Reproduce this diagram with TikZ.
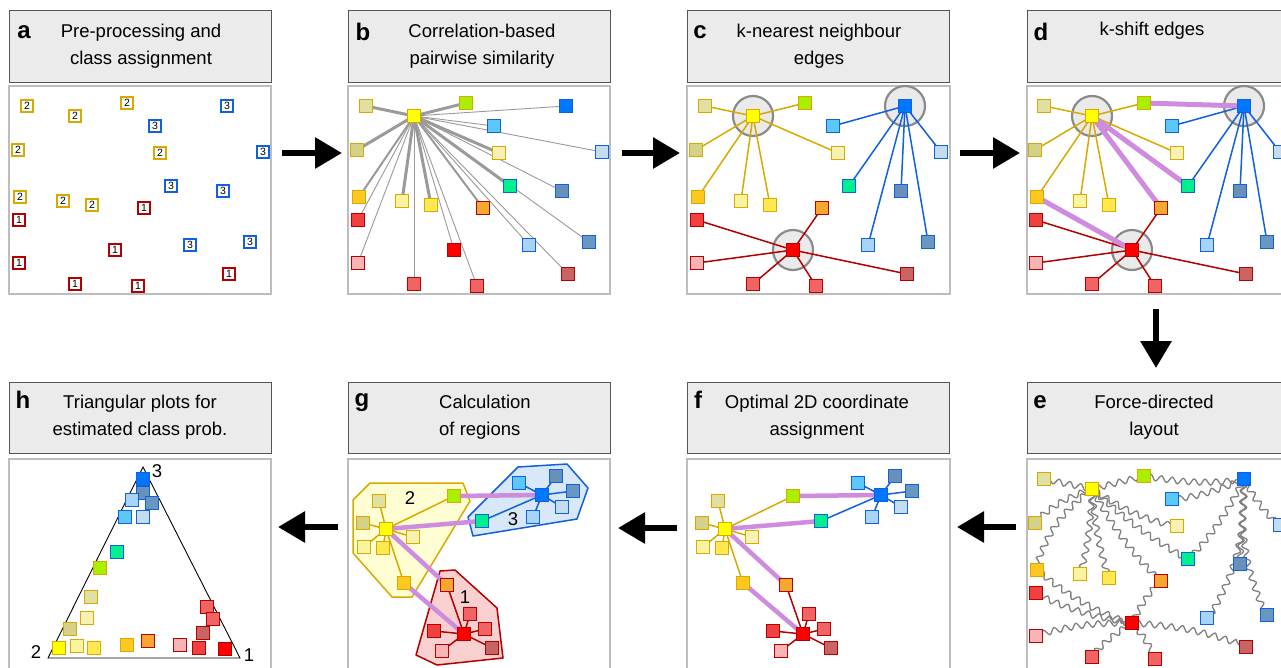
\documentclass[tikz,border=0pt]{standalone}
\usepackage{fontspec}
\setmainfont{Liberation Sans}
\usetikzlibrary{arrows.meta,decorations.pathmorphing}

\pgfdeclarelayer{back}
\pgfdeclarelayer{bg}
\pgfsetlayers{back,bg,main}

% node fills
\definecolor{n1}{HTML}{DFE0A2}
\definecolor{n2}{HTML}{FFFF00}
\definecolor{n3}{HTML}{AAEE00}
\definecolor{n4}{HTML}{D5D188}
\definecolor{n5}{HTML}{F6F2B4}
\definecolor{n6}{HTML}{FFC820}
\definecolor{n7}{HTML}{F8F4A0}
\definecolor{n8}{HTML}{FFE850}
\definecolor{n9}{HTML}{0077FF}
\definecolor{n10}{HTML}{5CC8F8}
\definecolor{n11}{HTML}{C4DCF0}
\definecolor{n12}{HTML}{00F090}
\definecolor{n13}{HTML}{6890B8}
\definecolor{n14}{HTML}{A8D4F8}
\definecolor{n15}{HTML}{6898C0}
\definecolor{n16}{HTML}{F04040}
\definecolor{n17}{HTML}{F4A830}
\definecolor{n18}{HTML}{FF0000}
\definecolor{n19}{HTML}{F8B4B4}
\definecolor{n20}{HTML}{F06464}
\definecolor{n21}{HTML}{F06464}
\definecolor{n22}{HTML}{C86464}
% class colours
\definecolor{cls1}{HTML}{B40000}
\definecolor{cls2}{HTML}{D8AA00}
\definecolor{cls3}{HTML}{1060E0}
\definecolor{hdrfill}{HTML}{EBEBEB}
\definecolor{hdrline}{HTML}{555555}
\definecolor{boxline}{HTML}{BDBDBD}
\definecolor{ringfill}{HTML}{EAEAEA}
\definecolor{ringline}{HTML}{8A8A8A}
\definecolor{simgray}{HTML}{9A9A9A}
\definecolor{springgray}{HTML}{808080}
\definecolor{shiftpurple}{HTML}{CF8CDF}
\definecolor{regyellow}{HTML}{FFFDD2}
\definecolor{regblue}{HTML}{D8E8F8}
\definecolor{regred}{HTML}{F8D0D0}

\tikzset{
  hdr/.style={draw=hdrline, fill=hdrfill, line width=1pt},
  panelbox/.style={draw=boxline, fill=white, line width=1.2pt},
  title/.style={font=\fontsize{18.5}{27}\selectfont, align=center, inner sep=0pt},
  letter/.style={font=\fontsize{24}{24}\selectfont\bfseries, inner sep=0pt},
  sq/.style={rectangle, minimum size=13pt, inner sep=0pt, line width=1.7pt},
  numsq/.style={sq, fill=white, minimum size=12.5pt, font=\fontsize{10.5}{10.5}\selectfont},
  ring/.style={circle, minimum size=40pt, inner sep=0pt, fill=ringfill, draw=ringline, line width=2.2pt},
  gedge/.style={draw=cls2, line width=1.5pt},
  bedge/.style={draw=cls3, line width=1.5pt},
  redge/.style={draw=cls1, line width=1.5pt},
  shiftedge/.style={draw=shiftpurple, line width=5pt},
  simthick/.style={draw=simgray, line width=3pt},
  simmid/.style={draw=simgray, line width=2pt},
  simthin/.style={draw=simgray, line width=0.9pt},
  spring/.style={draw=springgray, line width=1.3pt, decorate,
    decoration={snake, amplitude=3pt, segment length=11pt, pre length=3pt, post length=3pt}},
  bigarrow/.style={line width=6pt, -{Triangle[length=27pt, width=30pt]}},
  regnum/.style={font=\fontsize{18.5}{20}\selectfont, inner sep=0pt},
}

% node number / x / y / class for the shared layout of panels a-e
\def\baselayout{1/27/106/2, 2/75/116/2, 3/127/103/2, 4/18/150/2, 5/160/153/2,
  6/20/197/2, 7/63/201/2, 8/92/205/2, 9/227/106/3, 10/155/126/3, 11/263/152/3,
  12/171/186/3, 13/223/191/3, 14/190/245/3, 15/250/242/3, 16/19/220/1,
  17/144/208/1, 18/115/250/1, 19/19/263/1, 20/75/284/1, 21/138/286/1, 22/229/274/1}
% compact layout of panel f (panel g is the same, shifted left)
\def\flayout{1/718/501/2, 2/725/529/2, 3/793/496/2, 4/702/523/2, 5/752/537/2,
  6/743/583/2, 7/703/547/2, 8/722/548/2, 9/881/495/3, 10/858/483/3, 11/901/507/3,
  12/821/521/3, 13/895/476/3, 14/872/517/3, 15/912/491/3, 16/773/631/1,
  17/786/585/1, 18/803/634/1, 19/781/651/1, 20/824/629/1, 21/809/614/1, 22/831/648/1}
% triangular plot positions
\def\hlayout{9/143/479/3, 13/143/493/3, 14/132/500/3, 15/152/503/3, 10/125/517/3,
  11/143/517/3, 12/117/552/3, 3/100/568/2, 1/91/597/2, 5/87/618/2, 4/70/629/2,
  2/59/648/2, 7/77/646/2, 8/94/648/2, 6/127/645/2, 17/148/641/1, 19/180/645/1,
  16/199/648/1, 18/225/649/1, 20/207/607/1, 21/213/619/1, 22/203/633/1}
% hub-to-member edges
\def\knnedges{2/1/gedge, 2/3/gedge, 2/4/gedge, 2/5/gedge, 2/6/gedge, 2/7/gedge,
  2/8/gedge, 9/10/bedge, 9/11/bedge, 9/12/bedge, 9/13/bedge, 9/14/bedge,
  9/15/bedge, 18/16/redge, 18/17/redge, 18/19/redge, 18/20/redge, 18/21/redge,
  18/22/redge}
\def\shiftedges{3/9, 2/12, 2/17, 6/18}

\begin{document}
\begin{tikzpicture}[x=1pt, y=-1pt]
\useasboundingbox (0,0) rectangle (1281,667);

% ---------- panel frames ----------
\begin{pgfonlayer}{back}
  \foreach \px/\qx in {9/271, 348/610, 687/950, 1027/1300} {
    \draw[panelbox] (\px,86) rectangle (\qx,294);
    \draw[panelbox] (\px,459) rectangle (\qx,690);
  }
\end{pgfonlayer}
\foreach \px/\qx in {9/271, 348/610, 687/949, 1027/1300} {
  \draw[hdr] (\px,10) rectangle (\qx,82);
  \draw[hdr] (\px,382) rectangle (\qx,453);
}

% ---------- headers ----------
\node[letter] (la) at (24,32) {a};
\node[title] (ta) at (141,46) {Pre-processing and\\class assignment};
\node[letter] (lb) at (363,32) {b};
\node[title] (tb) at (482,46) {Correlation-based\\pairwise similarity};
\node[letter] (lc) at (700,32) {c};
\node[title] (tc) at (819,46) {k-nearest neighbour\\edges};
\node[letter] (ld) at (1041,32) {d};
\node[title] (td) at (1152,31) {k-shift edges};
\node[letter] (le) at (1040,402) {e};
\node[title] (te) at (1154,417) {Force-directed\\layout};
\node[letter] (lf) at (698,400) {f};
\node[title] (tf) at (817,417) {Optimal 2D coordinate\\assignment};
\node[letter] (lg) at (362,403) {g};
\node[title, align=left, anchor=west] (tg) at (439,417) {Calculation\\of regions};
\node[letter] (lh) at (23,400) {h};
\node[title] (th) at (140,417) {Triangular plots for\\estimated class prob.};

% ---------- a: class assignment ----------
\foreach \i/\x/\y/\c in \baselayout
  \node[numsq, draw=cls\c] (a\i) at (\x,\y) {\c};

% ---------- b: pairwise similarity ----------
\foreach \i/\x/\y/\c in \baselayout
  \node[sq, draw=cls\c, fill=n\i] (b\i) at (\x+339,\y) {};
\begin{pgfonlayer}{bg}
  \foreach \t/\st in {1/simthick, 3/simthick, 4/simthick, 5/simthick, 7/simthick,
      8/simthick, 12/simthick, 6/simmid, 17/simmid, 9/simthin, 10/simthin,
      11/simthin, 13/simthin, 14/simthin, 15/simthin, 16/simthin, 18/simthin,
      19/simthin, 20/simthin, 21/simthin, 22/simthin}
    \draw[\st] (b2.center) -- (b\t.center);
\end{pgfonlayer}

% ---------- c: k-nearest neighbour edges ----------
\foreach \i/\x/\y/\c in \baselayout
  \node[sq, draw=cls\c, fill=n\i] (c\i) at (\x+678,\y) {};
\begin{pgfonlayer}{bg}
  \foreach \h in {2,9,18}
    \node[ring] (cr\h) at (c\h) {};
  \foreach \s/\t/\st in \knnedges
    \draw[\st] (c\s.center) -- (c\t.center);
\end{pgfonlayer}

% ---------- d: k-shift edges ----------
\foreach \i/\x/\y/\c in \baselayout
  \node[sq, draw=cls\c, fill=n\i] (d\i) at (\x+1017,\y) {};
\begin{pgfonlayer}{bg}
  \foreach \h in {2,9,18}
    \node[ring] (dr\h) at (d\h) {};
  \foreach \s/\t/\st in \knnedges
    \draw[\st] (d\s.center) -- (d\t.center);
  \foreach \s/\t in \shiftedges
    \draw[shiftedge] (d\s.center) -- (d\t.center);
\end{pgfonlayer}

% ---------- e: force-directed layout ----------
\foreach \i/\x/\y/\c in \baselayout
  \node[sq, draw=cls\c, fill=n\i] (e\i) at (\x+1017,\y+373) {};
\begin{pgfonlayer}{bg}
  \foreach \s/\t/\b in {2/1/0, 2/3/0, 2/4/-12, 2/5/-10, 2/6/-18, 2/7/6, 2/8/-6,
      2/12/-6, 2/17/-8, 3/9/-8, 9/10/8, 9/11/-10, 9/12/8, 9/13/0, 9/14/16,
      9/15/-14, 6/18/-10, 18/16/8, 18/17/8, 18/19/-8, 18/20/-8, 18/21/8, 18/22/8}
    \draw[spring] (e\s.center) to[bend left=\b] (e\t.center);
\end{pgfonlayer}

% ---------- f: optimal 2D coordinates ----------
\foreach \i/\x/\y/\c in \flayout
  \node[sq, draw=cls\c, fill=n\i] (f\i) at (\x,\y) {};
\begin{pgfonlayer}{bg}
  \foreach \s/\t/\st in \knnedges
    \draw[\st] (f\s.center) -- (f\t.center);
  \foreach \s/\t in \shiftedges
    \draw[shiftedge, line width=4.5pt] (f\s.center) -- (f\t.center);
\end{pgfonlayer}

% ---------- g: regions ----------
\foreach \i/\x/\y/\c in \flayout
  \node[sq, draw=cls\c, fill=n\i] (g\i) at (\x-339,\y) {};
\begin{pgfonlayer}{bg}
  \draw[draw=cls2, fill=regyellow, line width=1.5pt, line join=round]
    (370,483) -- (463,483) -- (470,501) -- (412,597) -- (392,597)
    -- (353,553) -- (353,500) -- cycle;
  \draw[draw=cls3, fill=regblue, line width=1.5pt, line join=round]
    (518,467) -- (567,464) -- (588,488) -- (577,519) -- (473,536)
    -- (468,517) -- cycle;
  \draw[draw=cls1, fill=regred, line width=1.5pt, line join=round]
    (440,571) -- (455,570) -- (497,608) -- (503,658) -- (437,665)
    -- (416,655) -- cycle;
  \foreach \s/\t/\st in \knnedges
    \draw[\st] (g\s.center) -- (g\t.center);
  \foreach \s/\t in \shiftedges
    \draw[shiftedge, line width=4.5pt] (g\s.center) -- (g\t.center);
\end{pgfonlayer}
\node[regnum] (rg2) at (410,498) {2};
\node[regnum] (rg3) at (513,519) {3};
\node[regnum] (rg1) at (465,597) {1};

% ---------- h: triangular plot ----------
\coordinate (t3) at (143,467);
\coordinate (t2) at (48,658);
\coordinate (t1) at (240,658);
\draw[line width=0.9pt] (t1) -- (t3) -- (t2) -- cycle;
\node[regnum] (h3l) at (157,471) {3};
\node[regnum] (h2l) at (36,652) {2};
\node[regnum] (h1l) at (249,655) {1};
\foreach \i/\x/\y/\c in \hlayout
  \node[sq, draw=cls\c, fill=n\i] (h\i) at (\x,\y) {};

% ---------- arrows between the steps ----------
\coordinate (ab0) at (282,153);  \coordinate (ab1) at (342,153);
\coordinate (bc0) at (622,153);  \coordinate (bc1) at (680,153);
\coordinate (cd0) at (960,153);  \coordinate (cd1) at (1020,153);
\coordinate (de0) at (1156,309); \coordinate (de1) at (1156,368);
\coordinate (ef0) at (1016,527); \coordinate (ef1) at (957,527);
\coordinate (fg0) at (677,528);  \coordinate (fg1) at (618,528);
\coordinate (gh0) at (338,527);  \coordinate (gh1) at (278,527);
\foreach \s/\t in {ab0/ab1, bc0/bc1, cd0/cd1, de0/de1, ef0/ef1, fg0/fg1, gh0/gh1}
  \draw[bigarrow] (\s) -- (\t);
\end{tikzpicture}
\end{document}
